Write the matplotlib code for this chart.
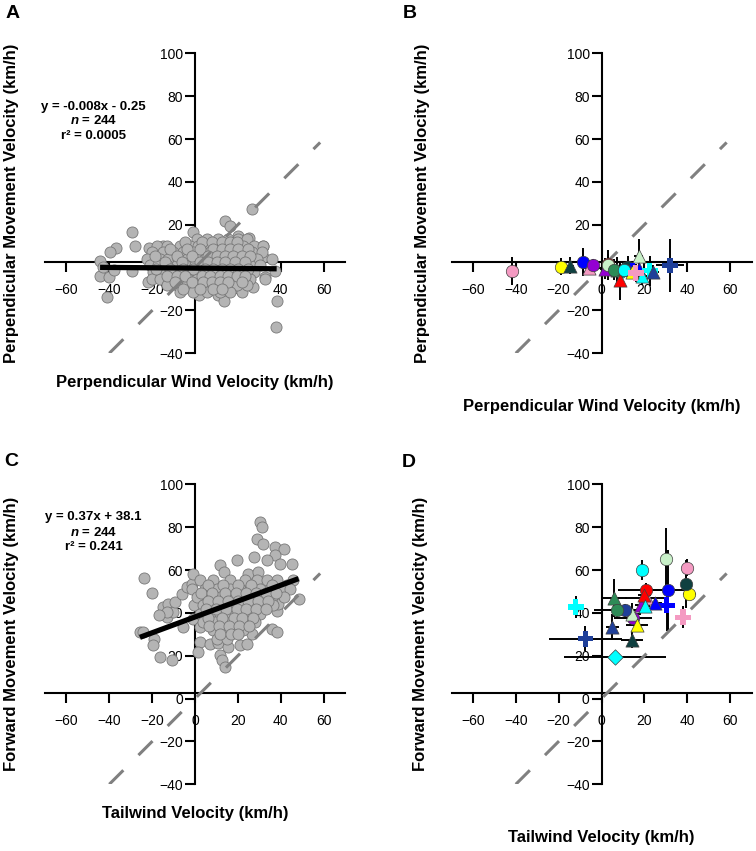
import matplotlib.pyplot as plt

plt.rcParams['font.family'] = ['Liberation Sans', 'DejaVu Sans']
plt.rcParams['mathtext.fontset'] = 'custom'
plt.rcParams['mathtext.it'] = 'Liberation Sans:italic:bold'
plt.rcParams['mathtext.rm'] = 'Liberation Sans:bold'

W, H = 756, 851

# ---- panel A: individual tracks, perpendicular components (km/h)
perp_wind = [26.4, 14.0, 16.3, -29.5, -1.0, -28.0, -36.9, -39.7, -44.3, -21.3, -14.8,
             20.2, 25.3, 31.9, 31.9, 35.8, 38.1, 37.8, -41.2, -44.3, -42.8, -29.5,
             -21.8, -16.3, -10.0, -4.7, 1.9, 6.2, 10.9, 14.8, 13.5, 17.9, 21.0, 27.2,
             32.7, 37.3, 21.8, 18.7, -40.0, -38.0,
             0.8, 5.5, 10.9, 15.6, 20.2, 24.1,
             -17.9, -13.2, -7.0, -2.3, 1.6, 5.5, 9.4, 13.2, 17.9, 22.6, 27.3, 31.9,
             -20.2, -14.8, -10.1, -5.4, -0.8, 3.1, 7.0, 10.9, 14.8, 18.7, 22.6, 26.5, 31.2,
             -22.5, -16.3, -12.4, -7.8, -3.9, 0.8, 4.7, 8.6, 12.5, 16.4, 20.2, 24.1, 28.8,
             -21.0, -17.1, -13.2, -8.5, -4.6, 0.0, 3.9, 8.6, 12.5, 16.4, 21.0, 25.7, 30.4,
             -19.4, -15.5, -10.9, -7.0, -2.3, 1.6, 6.2, 10.1, 14.0, 17.9, 22.6, 27.3,
             -20.2, -16.3, -11.7, -7.0, -3.1, 0.8, 5.5, 9.4, 13.2, 17.1, 21.0, 25.7, 32.7,
             -13.2, -8.5, -3.9, 0.8, 5.5, 10.1, 14.8, 19.5, 24.1,
             -7.0, -0.8, 5.5, 11.7, 16.4,
             -4.6, 3.1, 7.8, 12.5, 16.4, 19.5,
             -11.7, -3.9, 2.3, 8.6, 12.5, 16.4, 20.2, 24.9,
             -18.7, -8.5, -1.5, 6.2, 10.1, 14.0, 17.9, 21.8, 25.7,
             -14.0, -6.2, 2.3, 6.2, 10.1, 14.0, 18.7, 23.4,
             -18.0, -11.7, -5.4, -0.8, 4.7, 8.6, 12.5, 16.4, 20.2, 24.9,
             -13.2, -8.5, -4.6, 3.1, 7.0, 11.7, 15.6, 19.5, 23.4,
             -9.3, -1.5, 3.9, 7.8, 11.7, 15.6, 21.8,
             -5.4, 2.3, 8.6, 12.5]
perp_move = [27.4, 21.8, 19.6, 16.5, 16.5, 10.3, 9.1, 7.2, 3.3, 9.1, 10.0,
             14.7, 13.8, 10.0, 4.9, 4.1, -15.4, -27.8, -13.8, -3.7, 0.2, -1.4,
             -6.8, -4.9, -5.2, -8.3, -13.0, -10.7, -13.0, -11.4, -15.4, -6.8, -9.9, -9.1,
             -4.4, -1.4, -11.4, -4.4, -4.5, -1.0,
             13.4, 13.4, 13.4, 13.4, 13.4, 13.4,
             10.3, 10.3, 10.3, 10.3, 10.3, 10.3, 10.3, 10.3, 10.3, 10.3, 10.3, 10.3,
             7.2, 7.2, 7.2, 7.2, 7.2, 7.2, 7.2, 7.2, 7.2, 7.2, 7.2, 7.2, 7.2,
             4.1, 4.1, 4.1, 4.1, 4.1, 4.1, 4.1, 4.1, 4.1, 4.1, 4.1, 4.1, 4.1,
             1.0, 1.0, 1.0, 1.0, 1.0, 1.0, 1.0, 1.0, 1.0, 1.0, 1.0, 1.0, 1.0,
             -2.1, -2.1, -2.1, -2.1, -2.1, -2.1, -2.1, -2.1, -2.1, -2.1, -2.1, -2.1,
             -5.2, -5.2, -5.2, -5.2, -5.2, -5.2, -5.2, -5.2, -5.2, -5.2, -5.2, -5.2, -5.2,
             -8.3, -8.3, -8.3, -8.3, -8.3, -8.3, -8.3, -8.3, -8.3,
             -11.4, -11.4, -11.4, -11.4, -11.4,
             11.8, 11.8, 11.8, 11.8, 11.8, 11.8,
             8.8, 8.8, 8.8, 8.8, 8.8, 8.8, 8.8, 8.8,
             5.6, 5.6, 5.6, 5.6, 5.6, 5.6, 5.6, 5.6, 5.6,
             2.5, 2.5, 2.5, 2.5, 2.5, 2.5, 2.5, 2.5,
             -0.6, -0.6, -0.6, -0.6, -0.6, -0.6, -0.6, -0.6, -0.6, -0.6,
             -3.7, -3.7, -3.7, -3.7, -3.7, -3.7, -3.7, -3.7, -3.7,
             -6.8, -6.8, -6.8, -6.8, -6.8, -6.8, -6.8,
             -9.9, -9.9, -9.9, -9.9]

# ---- panel C: individual tracks, tailwind vs forward movement (km/h)
tail_wind = [-23.8, -20.2, -25.7, -24.1, -19.1, -19.4, -16.3, -10.9, -16.0, -13.2, -14.8,
             -12.4, -10.1, -9.3, -6.2, -13.2, -16.6, -3.9, -1.5, -0.8, -5.7, -0.8, -0.3,
             2.4, 2.4, 1.6, 7.0, 10.9, 11.7, 12.5, 14.0, 15.6, 21.0, 24.1, 26.5, 35.8,
             38.1, 38.1, 38.9, 48.3, 30.4, 31.1, 28.8, 31.9, 37.4, 41.3, 27.6, 37.1,
             19.5, 11.7, 13.6, 24.9, 29.6, 33.5, 39.7, 45.2, 45.9, 42.8,
             2.4, 8.6, 16.4, 23.4, 28.8, 33.5, 38.1,
             -1.5, 4.7, 10.1, 16.4, 21.0, 25.7, 30.4, 35.0, 40.5, 44.4,
             0.8, 6.3, 11.7, 17.9, 21.8, 26.5, 31.1, 35.8, 41.3,
             3.9, 8.6, 13.3, 17.9, 22.6, 27.3, 31.9, 36.6,
             2.4, 7.0, 11.7, 16.4, 21.0, 25.7, 30.4,
             3.9, 9.4, 14.0, 18.7, 23.4, 28.0,
             8.6, 13.3, 17.9, 22.6,
             10.1, 14.8,
             6.0, 13.0, 20.0, 26.0, 36.0,
             3.0, 8.0, 14.0, 19.0, 24.0, 28.5, 33.0, 38.0,
             6.0, 10.5, 15.5, 20.0, 24.5, 29.5, 34.0,
             5.0, 10.0, 14.5, 19.5, 24.0, 28.5, 33.0,
             6.0, 12.5, 18.0, 22.0, 27.0,
             6.5, 11.0, 16.0, 20.5, 25.0,
             11.5, 17.0, 20.0]
fwd_move = [56.5, 49.3, 31.1, 31.1, 28.0, 24.9, 19.4, 17.9, 39.7, 38.1, 42.8,
            44.3, 40.4, 45.1, 49.0, 40.4, 38.9, 52.1, 53.7, 58.3, 33.4, 37.3, 43.5,
            33.4, 26.4, 21.8, 25.6, 26.0, 20.2, 18.2, 14.8, 24.1, 24.9, 25.6, 30.3, 32.7,
            31.1, 40.9, 44.3, 46.6, 82.4, 80.1, 74.7, 72.3, 70.8, 70.0, 66.1, 66.9,
            64.9, 62.2, 59.1, 58.3, 59.1, 64.5, 63.0, 62.7, 55.2, 52.9,
            55.2, 55.2, 55.2, 55.2, 55.2, 55.2, 55.2,
            51.3, 51.3, 51.3, 51.3, 51.3, 51.3, 51.3, 51.3, 51.3, 51.3,
            47.4, 47.4, 47.4, 47.4, 47.4, 47.4, 47.4, 47.4, 47.4,
            43.5, 43.5, 43.5, 43.5, 43.5, 43.5, 43.5, 43.5,
            39.7, 39.7, 39.7, 39.7, 39.7, 39.7, 39.7,
            35.8, 35.8, 35.8, 35.8, 35.8, 35.8,
            31.9, 31.9, 31.9, 31.9,
            28.0, 28.0,
            53.0, 53.0, 53.0, 53.0, 53.0,
            49.4, 49.4, 49.4, 49.4, 49.4, 49.4, 49.4, 49.4,
            45.5, 45.5, 45.5, 45.5, 45.5, 45.5, 45.5,
            41.6, 41.6, 41.6, 41.6, 41.6, 41.6, 41.6,
            37.7, 37.7, 37.7, 37.7, 37.7,
            33.8, 33.8, 33.8, 33.8, 33.8,
            30.0, 30.0, 30.0]

fit_a = (-0.008, -0.25)
fit_c = (0.37, 38.1)

# ---- panels B and D: per-individual means +/- SD (same order in both panels)
grp_color = ['#f49ac2', '#ffff00', '#0f4040', '#0000ff', '#f49ac2', '#9400d3', '#9400d3',
             '#ff0000', '#c8f0c8', '#2e8b57', '#00ffff', '#ff0000', '#0f4040', '#c8f0c8',
             '#0000ff', '#0000ff', '#00ffff', '#00ffff', '#1f3f99', '#1f3f99', '#1f3f99',
             '#2e8b57', '#ffff00', '#00ffff', '#f49ac2']
grp_marker = ['o', 'o', '^', 'o', '^', 'o', '^',
              'o', 'o', '^', 'D', '^', 'o', '^',
              'P', '^', '^', 'P', '^', 'P', 'o',
              'o', '^', 'o', 'P']
b_x = [-42.0, -19.0, -14.5, -8.5, -6.0, -4.0, 1.5, 3.0, 3.0, 7.0, 10.0, 8.5, 12.5,
       17.3, 14.5, 17.5, 19.0, 22.5, 24.0, 32.0, 11.0, 6.0, 14.0, 10.5, 16.0]
b_y = [-1.5, 0.5, 0.8, 2.5, 0.0, 1.0, -0.5, 1.5, 1.0, -1.0, -1.0, -6.0, 0.5,
       5.5, -1.5, -0.5, -4.0, -1.5, -2.0, 1.0, -1.0, -1.0, -2.0, -1.0, -2.5]
b_xerr = [1.0, 1.5, 1.5, 1.5, 2.0, 3.0, 2.0, 1.5, 2.0, 3.0, 3.0, 1.5, 2.0,
          2.0, 2.0, 2.0, 2.0, 2.0, 3.0, 6.5, 3.0, 2.0, 2.0, 2.0, 2.0]
b_yerr = [6.5, 4.0, 4.0, 6.5, 3.0, 3.0, 5.0, 5.0, 7.0, 6.0, 4.0, 9.0, 5.0,
          8.0, 4.0, 5.0, 4.0, 7.0, 3.0, 12.5, 3.0, 5.0, 3.0, 3.0, 4.0]

d_x = [40.0, 41.0, 14.3, 31.0, 21.0, 14.7, 18.5, 20.8, 30.0, 5.8, 6.2, 20.0, 39.3,
       14.3, 30.5, 25.0, 20.5, -12.0, 5.0, -7.5, 11.0, 7.0, 16.5, 19.0, 38.0]
d_y = [61.0, 49.0, 27.5, 50.5, 47.0, 37.5, 43.5, 50.8, 65.0, 47.0, 19.2, 48.5, 53.5,
       39.5, 43.5, 44.5, 43.0, 42.8, 33.5, 28.0, 41.2, 41.5, 34.5, 60.0, 38.0]
d_xerr = [1.5, 3.0, 5.0, 11.0, 10.0, 9.0, 3.0, 13.0, 1.0, 6.0, 23.7, 3.0, 2.0,
          4.0, 4.0, 3.0, 2.0, 2.5, 3.0, 17.0, 7.5, 10.6, 5.0, 1.0, 2.0]
d_yerr = [4.0, 2.0, 4.0, 19.0, 3.0, 3.0, 3.0, 3.0, 14.5, 9.0, 1.0, 3.0, 11.0,
          5.0, 12.0, 2.0, 2.0, 5.0, 6.0, 6.0, 3.0, 4.0, 3.0, 4.5, 5.0]

marker_size = {'o': 80, '^': 90, 'P': 130, 'D': 62}

fig = plt.figure(figsize=(W / 100, H / 100), dpi=100)


def panel(left, top):
    return fig.add_axes([left / W, 1 - (top + 300) / H, 300 / W, 300 / H])


def style_axes(ax, xlabel, ylabel, xlab_y, ylab_x):
    ax.set_xlim(-70, 70)
    ax.set_ylim(-40, 100)
    for s in ['top', 'right']:
        ax.spines[s].set_visible(False)
    ax.spines['left'].set_position(('data', 0))
    ax.spines['bottom'].set_position(('data', 2.7))
    ax.spines['left'].set_linewidth(1.5)
    ax.spines['bottom'].set_linewidth(1.5)
    ax.set_xticks([-60, -40, -20, 0, 20, 40, 60])
    ax.set_yticks([-40, -20, 0, 20, 40, 60, 80, 100])
    ax.tick_params(axis='x', length=7, width=1.5, labelsize=10, pad=8)
    ax.tick_params(axis='y', length=7, width=1.5, labelsize=10, pad=1.5)
    ax.patch.set_visible(False)
    ax.set_xlabel(xlabel, fontsize=12, fontweight='bold', va='center')
    ax.set_ylabel(ylabel, fontsize=12, fontweight='bold', va='center')
    ax.xaxis.set_label_coords(0.5, xlab_y)
    ax.yaxis.set_label_coords(ylab_x, 0.5)
    ax.plot([-40, 58.4], [-40, 58.4], color='#808080', lw=2.2,
            dashes=(6.5, 7), solid_capstyle='butt', zorder=3.5)


ax_a = panel(45, 53.3)
ax_b = panel(451.5, 53.3)
ax_c = panel(45, 484.3)
ax_d = panel(451.5, 484.3)

style_axes(ax_a, 'Perpendicular Wind Velocity (km/h)',
           'Perpendicular Movement Velocity (km/h)', -0.099, -0.11)
style_axes(ax_b, 'Perpendicular Wind Velocity (km/h)',
           'Perpendicular Movement Velocity (km/h)', -0.179, -0.095)
style_axes(ax_c, 'Tailwind Velocity (km/h)',
           'Forward Movement Velocity (km/h)', -0.096, -0.11)
style_axes(ax_d, 'Tailwind Velocity (km/h)',
           'Forward Movement Velocity (km/h)', -0.176, -0.103)

# scatter panels with regression line
for ax, xs, ys, fit in [(ax_a, perp_wind, perp_move, fit_a),
                        (ax_c, tail_wind, fwd_move, fit_c)]:
    ax.scatter(xs, ys, s=64, facecolor='#b4b4b4', edgecolor='#787878',
               linewidth=0.6, zorder=3)
    x0, x1 = min(xs), max(xs)
    ax.plot([x0, x1], [fit[0] * x0 + fit[1], fit[0] * x1 + fit[1]],
            color='black', lw=3.8, solid_capstyle='butt', zorder=4)

stats = [(ax_a, 'y = -0.008x - 0.25', 244, '0.0005', (75.0, 68.5, 61.5)),
         (ax_c, 'y = 0.37x + 38.1', 244, '0.241', (84.6, 77.6, 70.6))]
for ax, eq, n, r2, ys in stats:
    kw = dict(ha='center', va='center', fontsize=9.5, fontweight='bold')
    ax.text(-47.3, ys[0], eq, **kw)
    ax.text(-47.3, ys[1], r'$\it{n}$ = %d' % n, **kw)
    ax.text(-47.3, ys[2], 'r\u00b2 = ' + r2, **kw)

# mean +/- SD panels
for ax, xs, ys, xe, ye in [(ax_b, b_x, b_y, b_xerr, b_yerr),
                           (ax_d, d_x, d_y, d_xerr, d_yerr)]:
    ax.errorbar(xs, ys, xerr=xe, yerr=ye, fmt='none', ecolor='black',
                elinewidth=1.4, capsize=0, zorder=3)
    for x, y, c, m in zip(xs, ys, grp_color, grp_marker):
        edge = 'none' if m == 'P' else '#404040'
        ax.scatter([x], [y], s=marker_size[m], marker=m, facecolor=c,
                   edgecolor=edge, linewidth=0.5, zorder=4)

for lbl, x, y in [('A', 12.5, 13), ('B', 409.5, 13.5), ('C', 11, 461), ('D', 408.5, 462)]:
    fig.text(x / W, 1 - y / H, lbl, fontsize=14, fontweight='bold',
             ha='center', va='center')

fig.savefig('out.png', dpi=100)
